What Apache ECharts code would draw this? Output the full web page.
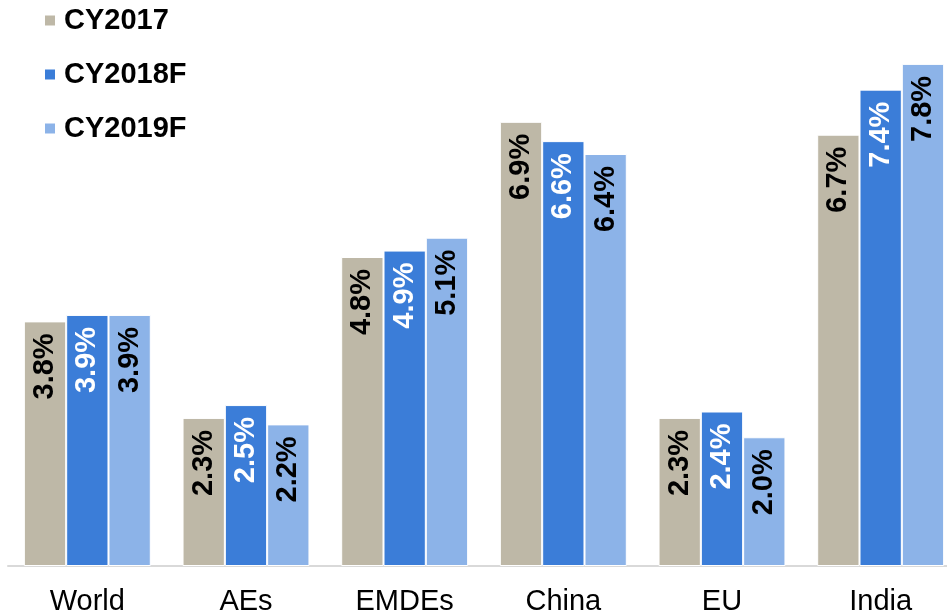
<!DOCTYPE html>
<html>
<head>
<meta charset="utf-8">
<script src="https://cdn.jsdelivr.net/npm/echarts@6/dist/echarts.min.js"></script>
<style>
  html, body { margin: 0; padding: 0; background: #fff; overflow: hidden; }
  #chart { width: 960px; height: 616px; }
</style>
</head>
<body>
<div id="chart"></div>
<script>
// GDP growth by economy, actual and forecast
const categories = ['World', 'AEs', 'EMDEs', 'China', 'EU', 'India'];
const seriesNames = ['CY2017', 'CY2018F', 'CY2019F'];
const cy2017 = [3.8, 2.3, 4.8, 6.9, 2.3, 6.7];
const cy2018f = [3.9, 2.5, 4.9, 6.6, 2.4, 7.4];
const cy2019f = [3.9, 2.2, 5.1, 6.4, 2.0, 7.8];

const colors = ['#BEB8A7', '#3B7DD8', '#8CB3E8'];
const labelColors = ['#000000', '#ffffff', '#000000'];
const font = 'Liberation Sans, Arial, sans-serif';

function makeSeries(name, data, i) {
  return {
    name: name,
    type: 'bar',
    data: data,
    barGap: '0%',
    barCategoryGap: '20%',
    itemStyle: { color: colors[i], borderColor: '#ffffff', borderWidth: 1 },
    label: {
      show: true,
      position: 'insideTop',
      rotate: 90,
      align: 'right',
      verticalAlign: 'middle',
      distance: 12,
      color: labelColors[i],
      fontFamily: font,
      fontWeight: 'bold',
      fontSize: 29,
      formatter: p => p.value.toFixed(1) + '%'
    },
    emphasis: { disabled: true }
  };
}

const chart = echarts.init(document.getElementById('chart'));
chart.setOption({
  animation: false,
  color: colors,
  legend: {
    orient: 'vertical',
    left: 43,
    top: 6,
    padding: 0,
    itemWidth: 12,
    itemHeight: 12,
    itemGap: 25,
    icon: 'rect',
    textStyle: { fontFamily: font, fontWeight: 'bold', fontSize: 29, color: '#000', padding: [0, 0, 0, 3] },
    data: seriesNames
  },
  grid: { left: 8, right: 0, top: 51, bottom: 49 },
  xAxis: {
    type: 'category',
    data: categories,
    axisLine: { lineStyle: { color: '#D9D9D9', width: 2 } },
    axisTick: { show: false },
    axisLabel: { fontFamily: font, fontSize: 29, color: '#000', margin: 21 }
  },
  yAxis: {
    type: 'value',
    min: 0,
    max: 8,
    show: false,
    splitLine: { show: false }
  },
  series: [
    makeSeries(seriesNames[0], cy2017, 0),
    makeSeries(seriesNames[1], cy2018f, 1),
    makeSeries(seriesNames[2], cy2019f, 2)
  ]
});
</script>
</body>
</html>
